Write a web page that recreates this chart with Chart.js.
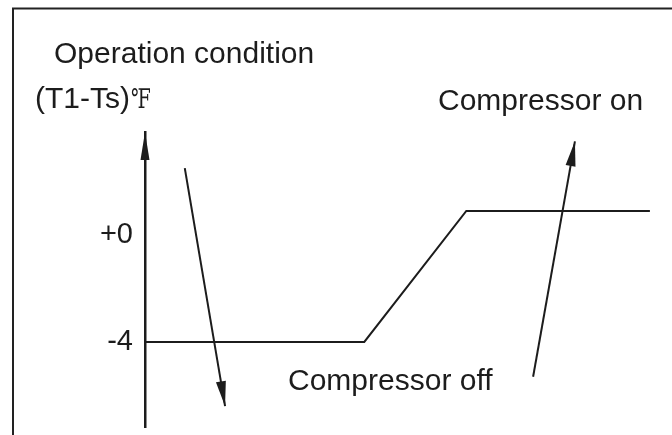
<!DOCTYPE html>
<html><head><meta charset="utf-8">
<script src="https://cdn.jsdelivr.net/npm/chart.js@4/dist/chart.umd.min.js"></script>
<style>html,body{margin:0;padding:0;background:#fff;overflow:hidden}</style>
</head><body><canvas id="c" width="672" height="435"></canvas>
<script>
// ---- data ----
const conditionX = [0, 43, 63, 99];
const conditionY = [-4, -4, 0.9, 0.9];
const offArrowX = [7.8, 15.7];
const offArrowY = [2.5, -6.4];
const onArrowX = [76.1, 84.3];
const onArrowY = [-5.3, 3.5];
const yTickValues = [0, -4];
const yTickLabels = ['+0', '-4'];
const titleText = 'Operation condition';
const axisTitle = '(T1-Ts)';
const unitText = '℉';
const onLabel = 'Compressor on';
const offLabel = 'Compressor off';

const INK = '#1c1c1c';
const SANS = '"Liberation Sans", Arial, Helvetica, sans-serif';
const toPts = (xs, ys) => xs.map((x, i) => ({x, y: ys[i]}));

function arrowHead(ctx, x0, y0, x1, y1, L, W) {
  const dx = x1 - x0, dy = y1 - y0, d = Math.hypot(dx, dy);
  const ux = dx / d, uy = dy / d, nx = -uy, ny = ux;
  const bx = x1 - ux * L, by = y1 - uy * L;
  ctx.beginPath();
  ctx.moveTo(x1, y1);
  ctx.lineTo(bx + nx * W, by + ny * W);
  ctx.lineTo(bx - nx * W, by - ny * W);
  ctx.closePath();
  ctx.fill();
}

const decor = {
  id: 'decor',
  afterDraw(chart) {
    const ctx = chart.ctx, ca = chart.chartArea;
    ctx.save();
    // frame
    ctx.strokeStyle = '#222'; ctx.lineWidth = 2;
    ctx.beginPath(); ctx.moveTo(13, 435); ctx.lineTo(13, 8.5); ctx.lineTo(672, 8.5); ctx.stroke();
    ctx.fillStyle = INK;
    // y axis arrow head
    arrowHead(ctx, ca.left, ca.bottom, ca.left, ca.top, 28, 4.5);
    // dataset arrow heads
    [1, 2].forEach(i => {
      const pts = chart.getDatasetMeta(i).data;
      arrowHead(ctx, pts[0].x, pts[0].y, pts[1].x, pts[1].y, 25, 5);
    });
    // texts
    ctx.textBaseline = 'alphabetic'; ctx.textAlign = 'left';
    ctx.font = '30px ' + SANS;
    ctx.fillText(titleText, 54, 63);
    ctx.fillText(axisTitle, 35, 108);
    const w = ctx.measureText(axisTitle).width;
    ctx.save();
    ctx.translate(35 + w + 1, 108);
    ctx.scale(0.7, 1);
    ctx.font = '27px "Liberation Serif", "DejaVu Serif", serif';
    ctx.fillText(unitText, 0, 0);
    ctx.restore();
    ctx.font = '30px ' + SANS;
    ctx.fillText(onLabel, 438, 110);
    ctx.fillText(offLabel, 288, 390);
    ctx.restore();
  }
};

new Chart(document.getElementById('c'), {
  type: 'scatter',
  data: {
    datasets: [
      {data: toPts(conditionX, conditionY), showLine: true, borderColor: INK, borderWidth: 2, pointRadius: 0, clip: false},
      {data: toPts(offArrowX, offArrowY), showLine: true, borderColor: INK, borderWidth: 2, pointRadius: 0, clip: false},
      {data: toPts(onArrowX, onArrowY), showLine: true, borderColor: INK, borderWidth: 2, pointRadius: 0, clip: false}
    ]
  },
  options: {
    responsive: false, animation: false, devicePixelRatio: 1,
    layout: {padding: {left: 0, top: 132, right: 17, bottom: 8}},
    plugins: {legend: {display: false}, tooltip: {enabled: false}, title: {display: false}},
    scales: {
      x: {type: 'linear', display: false, min: 0, max: 100},
      y: {
        type: 'linear', min: -7.18, max: 3.85,
        afterFit: s => { s.width = 145; s.paddingTop = 0; s.paddingBottom = 0; },
        afterBuildTicks: s => { s.ticks = yTickValues.map(v => ({value: v})); },
        grid: {display: false, drawTicks: false},
        border: {display: true, color: INK, width: 2.5},
        ticks: {
          padding: 12, color: INK, font: {size: 29, family: SANS},
          callback: v => yTickLabels[yTickValues.indexOf(v)]
        }
      }
    }
  },
  plugins: [decor]
});
</script></body></html>
